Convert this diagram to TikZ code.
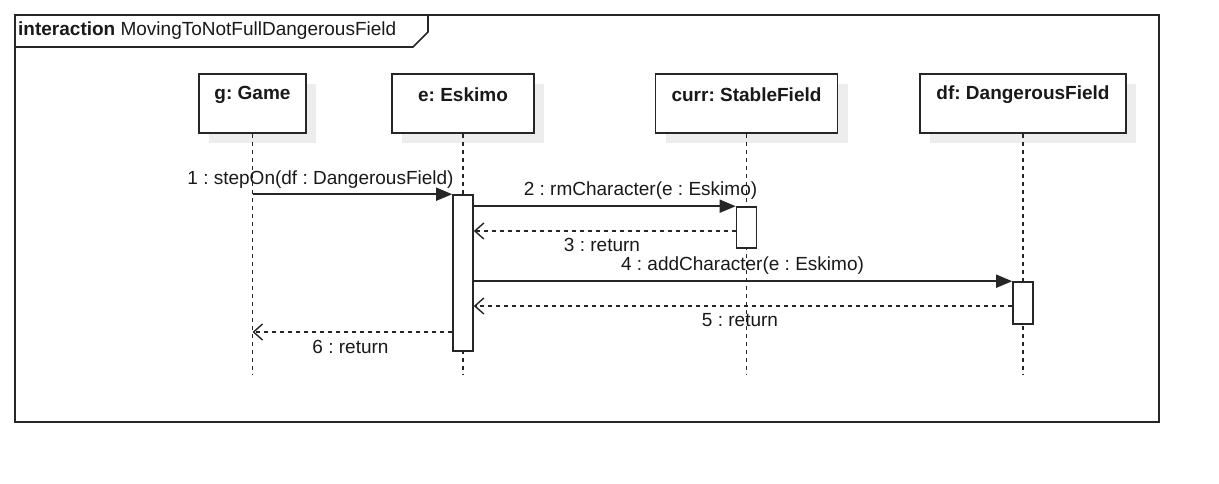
\documentclass[tikz,border=0pt]{standalone}
\usepackage{fontspec}
\setmainfont{Liberation Sans}
\frenchspacing
\usetikzlibrary{arrows.meta,shadows,calc}
\tikzset{
  ln/.style={line width=1.6pt, draw=black!85},
  txt/.style={font=\fontsize{19}{22}\selectfont, inner sep=0pt, text=black!90},
  headbox/.style={ln, fill=white, minimum width=#1, minimum height=59pt, inner sep=0pt,
     drop shadow={shadow xshift=10pt, shadow yshift=-10pt, fill=black!7, opacity=1}},
  headtxt/.style={txt, font=\fontsize{19}{22}\selectfont\bfseries},
  lifeline/.style={line width=1.4pt, draw=black!85, dash pattern=on 4pt off 4pt},
  actbar/.style={ln, fill=white, minimum width=20pt, minimum height=#1, inner sep=0pt},
  syncmsg/.style={ln, -{Triangle[length=16pt,width=13pt]}},
  retmsg/.style={ln, dash pattern=on 4pt off 4pt, -{Straight Barb[length=9pt,width=16pt,line width=1.4pt]}}
}
\begin{document}
\begin{tikzpicture}[x=1pt,y=-1pt]
\useasboundingbox (0,0) rectangle (1219,483);
% frame
\draw[ln] (15,15) rectangle (1159,422);
\draw[ln] (15,47) -- (413,47) -- (428,32) -- (428,15);
\node[txt, anchor=west] (title) at (18,31) {\textbf{interaction} MovingToNotFullDangerousField};
% heads
\node[headbox=107pt] (g) at (252.5,103.5) {};
\node[headbox=142pt] (e) at (463,103.5) {};
\node[headbox=182pt] (c) at (746.5,103.5) {};
\node[headbox=206pt] (d) at (1023,103.5) {};
\node[headtxt] (gl) at (252.5,95) {g: Game};
\node[headtxt] (el) at (463,95) {e: Eskimo};
\node[headtxt] (cl) at (746.5,95) {curr: StableField};
\node[headtxt] (dl) at (1023,95) {df: DangerousField};
% lifelines
\coordinate (bottom) at (0,374);
\draw[lifeline] (g.south) -- (g.south |- bottom);
\draw[lifeline] (e.south) -- (e.south |- bottom);
\draw[lifeline] (c.south) -- (c.south |- bottom);
\draw[lifeline] (d.south) -- (d.south |- bottom);
% activation bars
\node[actbar=156pt] (ea) at (463,273) {};
\node[actbar=41pt] (ca) at (746.5,227.5) {};
\node[actbar=42pt] (da) at (1023,303) {};
% message levels
\coordinate (m3) at (0,231);
\coordinate (m5) at (0,306);
\coordinate (m6) at (0,332);
% messages
\draw[syncmsg] (g.south |- ea.north) -- (ea.north west);
\draw[syncmsg] (ea.east |- ca.north) -- (ca.north west);
\draw[retmsg] (ca.west |- m3) -- (ea.east |- m3);
\draw[syncmsg] (ea.east |- da.north) -- (da.north west);
\draw[retmsg] (da.west |- m5) -- (ea.east |- m5);
\draw[retmsg] (ea.west |- m6) -- (g.south |- m6);
% labels
\node[txt] (l1) at (320.5,180) {1 : stepOn(df : DangerousField)};
\node[txt] (l2) at (640.5,191) {2 : rmCharacter(e : Eskimo)};
\node[txt] (l3) at (602,245) {3 : return};
\node[txt] (l4) at (742.5,266) {4 : addCharacter(e : Eskimo)};
\node[txt] (l5) at (740,320) {5 : return};
\node[txt] (l6) at (350.5,347) {6 : return};
\end{tikzpicture}
\end{document}
